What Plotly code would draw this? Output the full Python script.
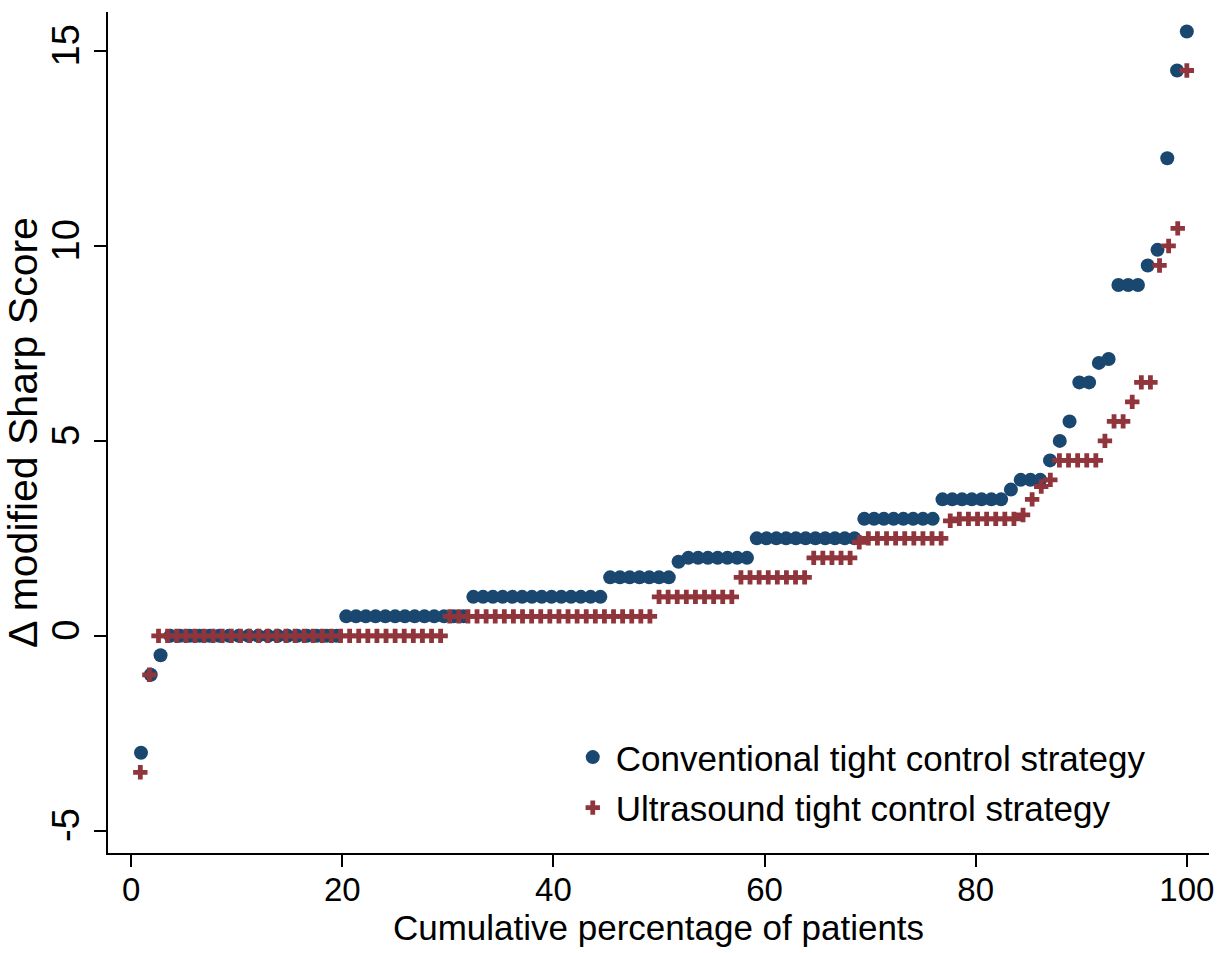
import plotly.graph_objects as go

# Conventional tight control strategy: sorted change values (run-length: level, count)
conv_levels = [-3, -1, -0.5, 0, 0.5, 1.0, 1.5, 1.9, 2.0, 2.5, 3.0, 3.5, 3.75, 4.0, 4.5, 5.0, 5.5, 6.5, 7.0, 7.1, 9.0, 9.5, 9.9, 12.25, 14.5, 15.5]
conv_counts = [1, 1, 1, 18, 13, 14, 7, 1, 7, 11, 8, 7, 1, 3, 1, 1, 1, 2, 1, 1, 3, 1, 1, 1, 1, 1]

# Ultrasound tight control strategy
us_levels = [-3.5, -1, 0, 0.5, 1.0, 1.5, 2.0, 2.4, 2.5, 2.95, 3.0, 3.1, 3.5, 3.83, 4.0, 4.5, 5.0, 5.5, 6.0, 6.5, 9.5, 10.0, 10.45, 14.5]
us_counts = [1, 1, 32, 23, 9, 8, 5, 1, 9, 1, 7, 1, 1, 1, 1, 5, 1, 2, 1, 2, 1, 1, 1, 1]

x_ticks = [0, 20, 40, 60, 80, 100]
y_ticks = [-5, 0, 5, 10, 15]


def expand(levels, counts):
    vals = []
    for v, c in zip(levels, counts):
        vals.extend([v] * c)
    n = len(vals)
    pct = [(i + 1) / n * 100 for i in range(n)]
    return pct, vals


conv_x, conv_y = expand(conv_levels, conv_counts)
us_x, us_y = expand(us_levels, us_counts)

NAVY = "#1a476f"
MAROON = "#90353b"
FONT = "Liberation Sans, Arial, sans-serif"

fig = go.Figure()
fig.add_trace(go.Scatter(
    x=conv_x, y=conv_y, mode="markers", name="Conventional tight control strategy",
    marker=dict(symbol="circle", size=14, color=NAVY, line=dict(width=0)),
    legendgroup="a",
))
fig.add_trace(go.Scatter(
    x=us_x, y=us_y, mode="markers", name="Ultrasound tight control strategy",
    marker=dict(symbol="cross", size=12, color=MAROON, line=dict(width=0)),
    legendgroup="b",
))

fig.update_layout(
    width=1224, height=953,
    margin=dict(l=108, r=15, t=12, b=100),
    plot_bgcolor="white", paper_bgcolor="white",
    font=dict(family=FONT, size=35, color="black"),
    showlegend=True,
    legend=dict(
        x=0.4194, y=0.084, xanchor="left", yanchor="middle",
        bgcolor="rgba(0,0,0,0)", borderwidth=0,
        font=dict(family=FONT, size=35, color="black"),
        tracegroupgap=2, traceorder="grouped", itemwidth=36,
    ),
    xaxis=dict(
        range=[-2.2, 102.1], tickvals=x_ticks, ticktext=[str(t) for t in x_ticks],
        showgrid=False, zeroline=False, showline=True, linecolor="black", linewidth=2,
        ticks="outside", ticklen=12, tickwidth=2, tickcolor="black",
        automargin=False,
        title=dict(text="Cumulative percentage of patients", standoff=2,
                   font=dict(family=FONT, size=35)),
        tickfont=dict(family=FONT, size=33),
        ticklabelstandoff=-6,
    ),
    yaxis=dict(
        range=[-5.57, 16.0], tickvals=y_ticks, ticktext=[str(t) for t in y_ticks],
        showgrid=False, zeroline=False, showline=True, linecolor="black", linewidth=2,
        ticks="outside", ticklen=12, tickwidth=2, tickcolor="black", tickangle=-90,
        automargin=False,
        title=dict(text="Δ modified Sharp Score", standoff=0,
                   font=dict(family=FONT, size=41)),
        tickfont=dict(family=FONT, size=38),
        ticklabelstandoff=0,
    ),
)

fig.write_html("out.html")
